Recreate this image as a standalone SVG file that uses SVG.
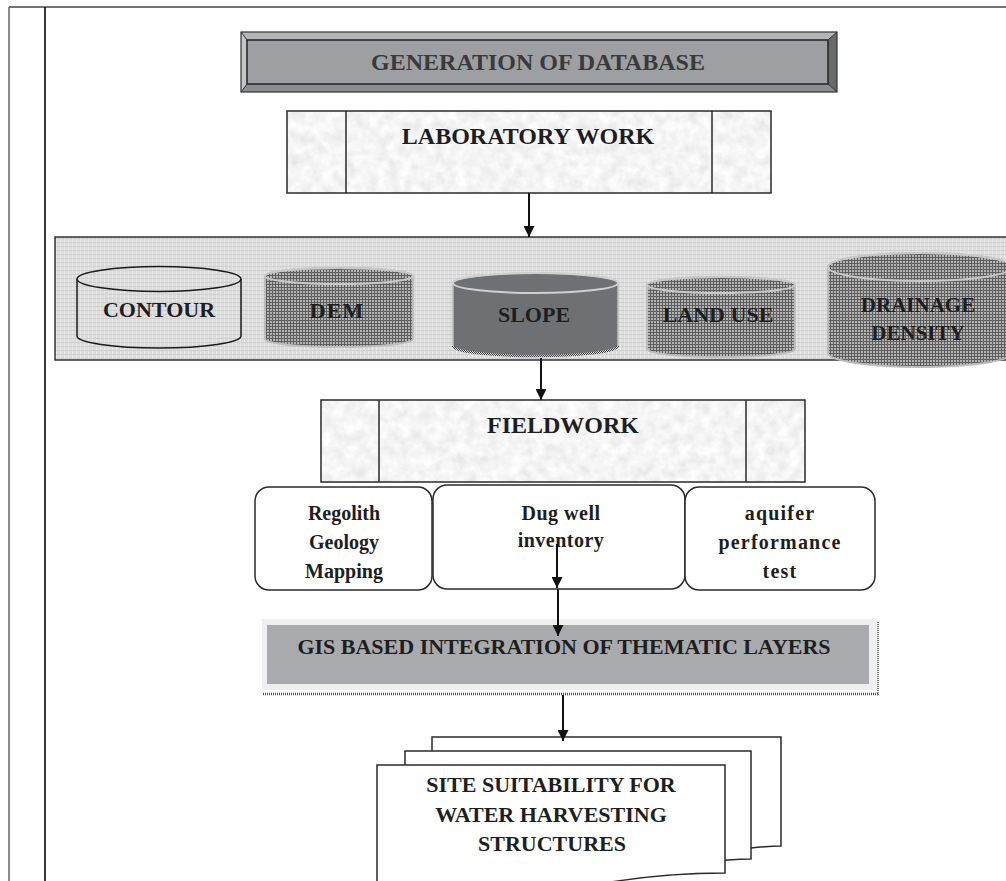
<svg xmlns="http://www.w3.org/2000/svg" width="1006" height="881" viewBox="0 0 1006 881">
<style>
.t{font-family:"Liberation Serif","Times New Roman",serif;font-weight:bold;fill:#1e1e1e;text-anchor:middle}
.ln{stroke:#1a1a1a;stroke-width:1.5;fill:none}
.box{stroke:#2a2a2a;stroke-width:1.5}
.arr{stroke:#111;stroke-width:2;fill:none;marker-end:url(#ah)}
</style>
<defs>
<marker id="ah" viewBox="0 0 10 10" refX="10" refY="5" markerWidth="5.5" markerHeight="5.5" markerUnits="strokeWidth" orient="auto">
<path d="M0,0 L10,5 L0,10 Z" fill="#111"/>
</marker>
<filter id="mottle" x="0" y="0" width="1" height="1">
<feTurbulence type="fractalNoise" baseFrequency="0.09" numOctaves="3" seed="7"/>
<feColorMatrix type="matrix" values="0.30 0 0 0 0.76  0.30 0 0 0 0.76  0.30 0 0 0 0.76  0 0 0 0 1"/>
</filter>
<pattern id="fabric" width="4" height="4" patternUnits="userSpaceOnUse">
<rect width="4" height="4" fill="#dcdcdc"/>
<rect x="0" y="0" width="1" height="4" fill="#e8e8e8"/>
<rect x="0" y="2" width="4" height="1" fill="#d0d0d0"/>
</pattern>
<pattern id="dots" width="3" height="3" patternUnits="userSpaceOnUse">
<rect width="3" height="3" fill="#5e5e5e"/>
<rect x="0" y="0" width="2" height="2" fill="#b4b4b4"/>
</pattern>
<pattern id="dotline" width="2" height="2" patternUnits="userSpaceOnUse">
<rect width="2" height="2" fill="#d0d0d0"/>
<rect width="1" height="1" fill="#444"/>
<rect x="1" y="1" width="1" height="1" fill="#444"/>
</pattern>
</defs>

<g id="frame">
<line x1="9" y1="7" x2="1006" y2="7" stroke="#444" stroke-width="1.5"/>
<line x1="9" y1="7" x2="9" y2="881" stroke="#666" stroke-width="1.5"/>
<line x1="45" y1="7" x2="45" y2="881" stroke="#222" stroke-width="1.8"/>
</g>

<g id="generation">
<rect x="241" y="32" width="596" height="60" fill="#a8a9ac"/>
<polygon points="241,32 837,32 828,40 247,40" fill="#b4b5b7"/>
<polygon points="241,32 247,40 247,84 241,92" fill="#c4c5c7"/>
<polygon points="837,32 837,92 828,84 828,40" fill="#68696b"/>
<polygon points="241,92 837,92 828,84 247,84" fill="#8c8d8f"/>
<rect x="247" y="40" width="581" height="44" fill="#9e9fa2" stroke="#222" stroke-width="1.5"/>
<line x1="241" y1="32" x2="247" y2="40" stroke="#333"/>
<line x1="241" y1="92" x2="247" y2="84" stroke="#333"/>
<line x1="837" y1="32" x2="828" y2="40" stroke="#333"/>
<line x1="837" y1="92" x2="828" y2="84" stroke="#333"/>
<rect x="241" y="32" width="596" height="60" fill="none" stroke="#333" stroke-width="1.2"/>
<text class="t" x="538" y="70" font-size="24" style="fill:#3a3a3a">GENERATION OF DATABASE</text>
</g>

<g id="laboratory">
<rect x="287" y="111" width="484" height="82" filter="url(#mottle)"/>
<rect x="287" y="111" width="484" height="82" class="box" fill="none"/>
<line x1="346" y1="111" x2="346" y2="193" class="box"/>
<line x1="712" y1="111" x2="712" y2="193" class="box"/>
<text class="t" x="528" y="144" font-size="24">LABORATORY WORK</text>
</g>

<g id="layers">
<rect x="55" y="237" width="960" height="123" fill="url(#fabric)" stroke="#333" stroke-width="1.5"/>
<g id="contour">
<path d="M77,279 V336 A82,12 0 0 0 241,336 V279" class="ln"/>
<ellipse cx="159" cy="279" rx="82" ry="12.5" class="ln"/>
<text class="t" x="159" y="317" font-size="22">CONTOUR</text>
</g>
<g id="dem">
<path d="M265,276 V339 A74,8 0 0 0 413,339 V276 A74,8 0 0 0 265,276 Z" fill="url(#dots)" stroke="#bdbdbd" stroke-width="2"/>
<ellipse cx="339" cy="276" rx="74" ry="8" fill="none" stroke="#c8c8c8" stroke-width="2"/>
<text class="t" x="337" y="318" font-size="22" letter-spacing="1">DEM</text>
</g>
<g id="slope">
<path d="M453,283 V346 A82.5,10 0 0 0 618,346 V283 A82.5,10 0 0 0 453,283 Z" fill="#6f7073" stroke="#bcbcbc" stroke-width="1.5"/>
<path d="M453,346 A82.5,10 0 0 0 618,346" fill="none" stroke="url(#dotline)" stroke-width="2.5"/>
<ellipse cx="535.5" cy="283" rx="82.5" ry="10" fill="none" stroke="#d0d0d0" stroke-width="2"/>
<text class="t" x="534" y="322" font-size="22">SLOPE</text>
</g>
<g id="landuse">
<path d="M647,285 V349 A74,8 0 0 0 795,349 V285 A74,8 0 0 0 647,285 Z" fill="url(#dots)" stroke="#bdbdbd" stroke-width="2"/>
<ellipse cx="721" cy="285" rx="74" ry="8" fill="none" stroke="#c8c8c8" stroke-width="2"/>
<text class="t" x="718" y="322" font-size="22">LAND USE</text>
</g>
<g id="drainage">
<path d="M828,267 V353 A92,14 0 0 0 1012,353 V267 A92,14 0 0 0 828,267 Z" fill="url(#dots)" stroke="#bdbdbd" stroke-width="2"/>
<ellipse cx="920" cy="267" rx="92" ry="14" fill="none" stroke="#c8c8c8" stroke-width="2"/>
<text class="t" x="918" y="312" font-size="21">DRAINAGE</text>
<text class="t" x="918" y="340" font-size="21">DENSITY</text>
</g>
</g>

<g id="fieldwork">
<rect x="321" y="400" width="484" height="82" filter="url(#mottle)"/>
<rect x="321" y="400" width="484" height="82" class="box" fill="none"/>
<line x1="379" y1="400" x2="379" y2="482" class="box"/>
<line x1="746" y1="400" x2="746" y2="482" class="box"/>
<text class="t" x="563" y="433" font-size="24">FIELDWORK</text>
</g>

<g id="regolith">
<rect x="255" y="487" width="177" height="103" rx="14" fill="#fff" class="box"/>
<text class="t" x="344" y="520" font-size="20">Regolith</text>
<text class="t" x="344" y="549" font-size="20">Geology</text>
<text class="t" x="344" y="578" font-size="20">Mapping</text>
</g>
<g id="dugwell">
<rect x="433" y="485" width="252" height="104" rx="14" fill="#fff" class="box"/>
<text class="t" x="561" y="520" font-size="20" letter-spacing="0.5">Dug well</text>
<text class="t" x="561" y="547" font-size="20" letter-spacing="0.5">inventory</text>
</g>
<g id="aquifer">
<rect x="685" y="487" width="190" height="103" rx="14" fill="#fff" class="box"/>
<text class="t" x="780" y="520" font-size="20" letter-spacing="1.2">aquifer</text>
<text class="t" x="780" y="549" font-size="20" letter-spacing="1.2">performance</text>
<text class="t" x="780" y="578" font-size="20" letter-spacing="1.2">test</text>
</g>

<g id="gis">
<rect x="262" y="619" width="616" height="71" fill="#efefef"/>
<rect x="267" y="625" width="602" height="59" fill="#a9aaad"/>
<line x1="263" y1="694" x2="879" y2="694" stroke="#555" stroke-width="2.5" stroke-dasharray="1 1"/>
<line x1="878" y1="622" x2="878" y2="695" stroke="#555" stroke-width="1.5" stroke-dasharray="1 1"/>
<text class="t" x="564" y="654" font-size="22">GIS BASED INTEGRATION OF THEMATIC LAYERS</text>
</g>

<g id="site">
<path d="M432,737 H781 V846 C770,846 760,847 751,848 L432,861 Z" fill="#fff" class="box"/>
<path d="M405,751 H751 V859 C735,859 715,861 700,863 L405,876 Z" fill="#fff" class="box"/>
<path d="M377,765 H725 V873 C680,873 640,877 605,883 L377,883 Z" fill="#fff" class="box"/>
<text class="t" x="551" y="792" font-size="22">SITE SUITABILITY FOR</text>
<text class="t" x="551" y="822" font-size="22">WATER HARVESTING</text>
<text class="t" x="552" y="851" font-size="22">STRUCTURES</text>
</g>

<g id="connectors">
<line x1="529" y1="193" x2="529" y2="237" class="arr"/>
<line x1="541" y1="358" x2="541" y2="400" class="arr"/>
<line x1="557" y1="544" x2="557" y2="588" class="arr"/>
<line x1="558" y1="589" x2="558" y2="636" class="arr"/>
<line x1="563" y1="695" x2="563" y2="741" class="arr"/>
</g>
</svg>
